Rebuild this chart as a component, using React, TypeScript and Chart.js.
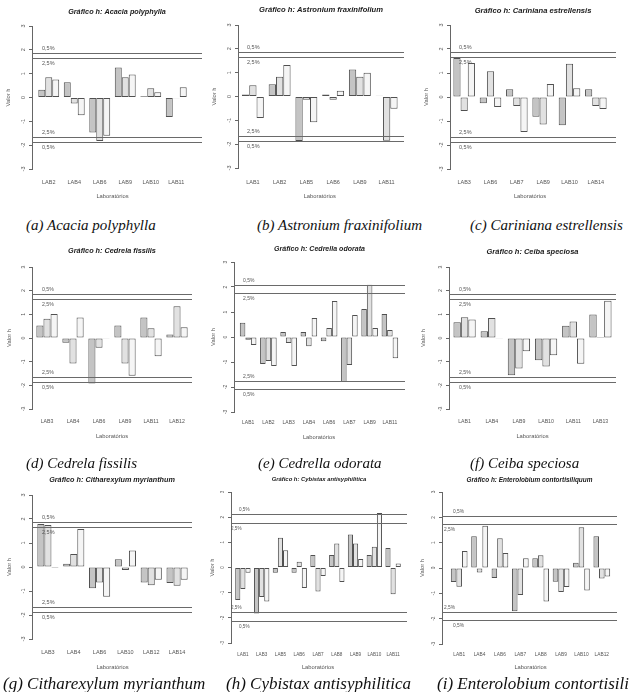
import React, { useEffect, useRef } from 'react';
import { Chart, registerables } from 'chart.js';

Chart.register(...registerables);

const FONT = '"Liberation Sans", Arial, sans-serif';
const SERIF = '"Liberation Serif", "Times New Roman", serif';

// ---------- data ----------
const seriesColors = ['#c4c4c4', '#e1e1e1', '#f5f5f5'];
const critLabels = ['0,5%', '2,5%'];
const crit6 = [1.87, 1.66];
const crit8 = [2.06, 1.75];
const crit9 = [2.13, 1.78];
const xTitle = 'Laboratórios';
const yTitle = 'Valor h';

const labsA = ['LAB2', 'LAB4', 'LAB6', 'LAB9', 'LAB10', 'LAB11'];
const hA1 = [0.32, 0.64, -1.47, 1.26, 0.05, -0.82];
const hA2 = [0.85, -0.25, -1.82, 0.85, 0.39, -0.03];
const hA3 = [0.76, -0.74, -1.61, 0.97, 0.22, 0.43];

const labsB = ['LAB1', 'LAB2', 'LAB5', 'LAB6', 'LAB9', 'LAB11'];
const hB1 = [0.08, 0.51, -1.87, 0.08, 1.13, 0.03];
const hB2 = [0.47, 0.83, -0.14, -0.14, 0.83, -1.86];
const hB3 = [-0.9, 1.32, -1.08, 0.24, 1.0, -0.51];

const labsC = ['LAB3', 'LAB6', 'LAB7', 'LAB9', 'LAB10', 'LAB14'];
const hC1 = [1.63, -0.26, 0.32, -0.82, -1.18, 0.32];
const hC2 = [-0.58, 1.07, -0.38, -1.15, 1.39, -0.38];
const hC3 = [1.42, -0.42, -1.46, 0.54, 0.36, -0.5];

const labsD = ['LAB3', 'LAB4', 'LAB6', 'LAB9', 'LAB11', 'LAB12'];
const hD1 = [0.53, -0.2, -1.92, 0.53, 0.87, 0.15];
const hD2 = [0.81, -1.08, -0.41, -1.08, 0.41, 1.34];
const hD3 = [1.01, 0.87, -0.03, -1.6, -0.77, 0.45];

const labsE = ['LAB1', 'LAB2', 'LAB3', 'LAB4', 'LAB6', 'LAB7', 'LAB9', 'LAB11'];
const hE1 = [0.57, -1.08, 0.2, 0.2, -0.17, -1.8, 1.12, 0.92];
const hE2 = [-0.11, -0.96, -0.24, -0.37, 0.36, -1.12, 2.09, 0.28];
const hE3 = [-0.32, -1.16, -1.16, 0.76, 1.44, 0.88, 0.36, -0.85];

const labsF = ['LAB1', 'LAB4', 'LAB9', 'LAB10', 'LAB11', 'LAB13'];
const hF1 = [0.67, 0.28, -1.57, -0.94, 0.52, 0.99];
const hF2 = [0.88, 0.85, -1.29, -1.2, 0.7, 0.04];
const hF3 = [0.78, -0.03, -0.56, -0.73, -1.09, 1.57];

const labsG = ['LAB3', 'LAB4', 'LAB6', 'LAB10', 'LAB12', 'LAB14'];
const hG1 = [1.79, 0.14, -0.89, 0.32, -0.65, -0.67];
const hG2 = [1.75, 0.54, -0.65, -0.13, -0.76, -0.78];
const hG3 = [-0.04, 1.58, -1.24, 0.69, -0.53, -0.53];

const labsH = ['LAB1', 'LAB3', 'LAB5', 'LAB6', 'LAB7', 'LAB8', 'LAB9', 'LAB10', 'LAB11'];
const hH1 = [-1.29, -1.83, -0.21, -0.21, 0.5, 0.5, 1.31, 0.5, 0.77];
const hH2 = [-0.85, -1.17, 1.18, 0.23, -0.95, 0.95, 0.95, 0.82, -1.06];
const hH3 = [-0.21, -1.35, 0.69, -0.81, -0.34, -0.58, 0.34, 2.17, 0.16];

const labsI = ['LAB1', 'LAB4', 'LAB6', 'LAB7', 'LAB8', 'LAB9', 'LAB10', 'LAB12'];
const hI1 = [-0.55, 1.25, -0.39, -1.71, 0.38, -0.54, 0.21, 1.25];
const hI2 = [-0.74, -0.18, 1.17, -1.07, 0.5, -0.95, 1.61, -0.41];
const hI3 = [0.67, 1.67, 0.59, 0.38, -1.32, -0.75, -0.89, -0.34];

const titles = [
  'Gráfico h: Acacia polyphylla',
  'Gráfico h: Astronium fraxinifolium',
  'Gráfico h: Cariniana estrellensis',
  'Gráfico h: Cedrela fissilis',
  'Gráfico h: Cedrella odorata',
  'Gráfico h: Ceiba speciosa',
  'Gráfico h: Citharexylum myrianthum',
  'Gráfico h: Cybistax antisyphilitica',
  'Gráfico h: Enterolobium contortisiliquum',
];

const captions = [
  '(a) Acacia polyphylla',
  '(b) Astronium fraxinifolium',
  '(c) Cariniana estrellensis',
  '(d) Cedrela fissilis',
  '(e) Cedrella odorata',
  '(f) Ceiba speciosa',
  '(g) Citharexylum myrianthum',
  '(h) Cybistax antisyphilitica',
  '(i) Enterolobium contortisiliquum',
];

// ---------- layout (positions / sizes only) ----------
type Panel = {
  labels: string[];
  series: number[][];
  crit: number[];
  title: string;
  left: number; top0: number; W: number; H: number;
  axisX: number; top: number; bottom: number;
  titleY: number; titleW: number;
  labelsY: number; xTitleY: number; yTitleX: number;
  lineEnd: number; catL: number; catR: number;
  x05: number; x25: number; tick: number;
};

const panels: Panel[] = [
  { labels: labsA, series: [hA1, hA2, hA3], crit: crit6, title: titles[0],
    left: 0, top0: 0, W: 210, H: 205, axisX: 32, top: 26, bottom: 169, titleY: 12, titleW: 98,
    labelsY: 182, xTitleY: 196, yTitleX: 8, lineEnd: 202, catL: 36, catR: 189, x05: 42, x25: 42, tick: 5.5 },
  { labels: labsB, series: [hB1, hB2, hB3], crit: crit6, title: titles[1],
    left: 210, top0: 0, W: 210, H: 205, axisX: 28, top: 25, bottom: 168, titleY: 10, titleW: 124,
    labelsY: 182, xTitleY: 196, yTitleX: 4, lineEnd: 194, catL: 29.5, catR: 190, x05: 37, x25: 37, tick: 5.5 },
  { labels: labsC, series: [hC1, hC2, hC3], crit: crit6, title: titles[2],
    left: 420, top0: 0, W: 209, H: 205, axisX: 30, top: 25, bottom: 169, titleY: 11, titleW: 117,
    labelsY: 182, xTitleY: 196, yTitleX: 6, lineEnd: 196, catL: 31, catR: 189, x05: 39, x25: 39, tick: 5.5 },
  { labels: labsD, series: [hD1, hD2, hD3], crit: crit6, title: titles[3],
    left: 0, top0: 235, W: 210, H: 210, axisX: 32, top: 32, bottom: 174, titleY: 16, titleW: 88,
    labelsY: 187, xTitleY: 201, yTitleX: 9, lineEnd: 192, catL: 34, catR: 190, x05: 42, x25: 42, tick: 5.2 },
  { labels: labsE, series: [hE1, hE2, hE3], crit: crit8, title: titles[4],
    left: 210, top0: 235, W: 210, H: 210, axisX: 24, top: 27, bottom: 177, titleY: 14, titleW: 91,
    labelsY: 188, xTitleY: 202, yTitleX: 3, lineEnd: 195, catL: 28, catR: 190, x05: 33, x25: 33, tick: 5 },
  { labels: labsF, series: [hF1, hF2, hF3], crit: crit6, title: titles[5],
    left: 420, top0: 235, W: 209, H: 210, axisX: 29, top: 32, bottom: 174, titleY: 17, titleW: 92,
    labelsY: 187, xTitleY: 201, yTitleX: 3, lineEnd: 196, catL: 31, catR: 194, x05: 39, x25: 39, tick: 5.2 },
  { labels: labsG, series: [hG1, hG2, hG3], crit: crit6, title: titles[6],
    left: 0, top0: 465, W: 210, H: 210, axisX: 32, top: 30, bottom: 174, titleY: 15, titleW: 126,
    labelsY: 187, xTitleY: 202, yTitleX: 9, lineEnd: 192, catL: 35, catR: 190, x05: 42, x25: 42, tick: 5.5 },
  { labels: labsH, series: [hH1, hH2, hH3], crit: crit9, title: titles[7],
    left: 210, top0: 465, W: 210, H: 210, axisX: 21, top: 27, bottom: 178, titleY: 14, titleW: 95,
    labelsY: 190, xTitleY: 202, yTitleX: 2, lineEnd: 197, catL: 23.5, catR: 192.5, x05: 29, x25: 21, tick: 4.6 },
  { labels: labsI, series: [hI1, hI2, hI3], crit: crit8, title: titles[8],
    left: 420, top0: 465, W: 209, H: 210, axisX: 22, top: 27, bottom: 179, titleY: 15, titleW: 126,
    labelsY: 190, xTitleY: 202, yTitleX: 2, lineEnd: 197, catL: 29, catR: 192, x05: 33, x25: 24, tick: 4.8 },
];

const captionPos = [
  { x: 26, y: 225, fs: 15 }, { x: 257, y: 225, fs: 15 }, { x: 470, y: 225, fs: 15 },
  { x: 26, y: 463, fs: 15 }, { x: 258, y: 463, fs: 15 }, { x: 470, y: 463, fs: 15 },
  { x: 3, y: 683, fs: 17 }, { x: 226, y: 683, fs: 17 }, { x: 437, y: 683, fs: 17 },
];

function fitTitleSize(text: string, targetW: number): number {
  const c = document.createElement('canvas').getContext('2d')!;
  c.font = `italic bold 10px ${FONT}`;
  const w = c.measureText(text).width;
  return (10 * targetW) / w;
}

function BarPanel({ p }: { p: Panel }) {
  const ref = useRef<HTMLCanvasElement | null>(null);
  useEffect(() => {
    const canvas = ref.current!;
    const fs = fitTitleSize(p.title, p.titleW);
    const tlh = fs * 1.2;
    const tickLh = p.tick * 1.2;
    const axFs = 5.8;
    const axLh = axFs * 1.2;
    const extras = {
      id: 'panelExtras',
      afterLayout(chart: any) {
        const xs = chart.scales.x;
        xs.left = p.catL;
        xs.right = p.catR;
        xs.width = p.catR - p.catL;
        xs.configure();
      },
      afterDatasetsDraw(chart: any) {
        const { ctx, chartArea } = chart;
        const ys = chart.scales.y;
        const vals = [p.crit[0], p.crit[1], -p.crit[1], -p.crit[0]];
        const texts = [critLabels[0], critLabels[1], critLabels[1], critLabels[0]];
        const dirs = [-1, 1, -1, 1];
        const xsPos = [p.x05, p.x25, p.x25, p.x05];
        ctx.save();
        ctx.strokeStyle = '#6a6a6a';
        ctx.lineWidth = 1;
        ctx.font = `${p.tick}px ${FONT}`;
        ctx.fillStyle = '#555';
        ctx.textBaseline = 'middle';
        ctx.textAlign = 'left';
        vals.forEach((v, i) => {
          const py = Math.round(ys.getPixelForValue(v)) + 0.5;
          ctx.beginPath();
          ctx.moveTo(chartArea.left, py);
          ctx.lineTo(chartArea.right, py);
          ctx.stroke();
          ctx.fillText(texts[i], xsPos[i], py + dirs[i] * 5);
        });
        ctx.restore();
      },
    };
    const chart = new Chart(canvas, {
      type: 'bar',
      data: {
        labels: p.labels,
        datasets: p.series.map((d, i) => ({
          data: d,
          backgroundColor: seriesColors[i],
          borderColor: '#505050',
          borderWidth: 1,
          borderSkipped: false,
          barPercentage: 1,
          categoryPercentage: 0.82,
        })),
      },
      options: {
        responsive: false,
        animation: false,
        events: [],
        layout: { padding: { left: 0, top: 0, bottom: 0, right: p.W - p.lineEnd } },
        plugins: {
          legend: { display: false },
          tooltip: { enabled: false },
          title: {
            display: true,
            text: p.title,
            fullSize: false,
            color: '#1a1a1a',
            font: { family: FONT, size: fs, style: 'italic', weight: 'bold', lineHeight: 1.2 },
            padding: { top: p.titleY - tlh / 2, bottom: p.top - p.titleY - tlh / 2 },
          },
        },
        scales: {
          x: {
            grid: { display: false, drawTicks: false },
            border: { display: false },
            ticks: {
              autoSkip: false,
              maxRotation: 0,
              minRotation: 0,
              font: { family: FONT, size: p.tick },
              color: '#555',
              padding: p.labelsY - p.bottom - tickLh / 2,
            },
            title: {
              display: true,
              text: xTitle,
              font: { family: FONT, size: axFs },
              color: '#555',
              padding: { top: 0, bottom: p.H - p.xTitleY - axLh / 2 },
            },
            afterFit: (s: any) => {
              s.height = p.H - p.bottom;
            },
          },
          y: {
            min: -3,
            max: 3,
            ticks: {
              stepSize: 1,
              minRotation: 90,
              maxRotation: 90,
              crossAlign: 'center',
              padding: 3,
              font: { family: FONT, size: p.tick },
              color: '#555',
            },
            grid: { drawOnChartArea: false, drawTicks: true, tickLength: 3, color: '#666' },
            border: { display: true, color: '#666' },
            title: {
              display: true,
              text: yTitle,
              font: { family: FONT, size: axFs },
              color: '#555',
              padding: { top: p.yTitleX - axLh / 2, bottom: 0 },
            },
            afterFit: (s: any) => {
              s.width = p.axisX;
            },
          },
        },
      } as any,
      plugins: [extras],
    });
    return () => chart.destroy();
  }, [p]);
  return (
    <canvas
      ref={ref}
      width={p.W}
      height={p.H}
      style={{ position: 'absolute', left: p.left, top: p.top0, display: 'block' }}
    />
  );
}

export default function App() {
  return (
    <div
      style={{
        position: 'absolute',
        left: 0,
        top: 0,
        width: 629,
        height: 692,
        overflow: 'hidden',
        background: '#fff',
      }}
    >
      {panels.map((p, i) => (
        <BarPanel key={i} p={p} />
      ))}
      {captions.map((c, i) => (
        <div
          key={'c' + i}
          style={{
            position: 'absolute',
            left: captionPos[i].x,
            top: captionPos[i].y - captionPos[i].fs / 2,
            fontFamily: SERIF,
            fontStyle: 'italic',
            fontSize: captionPos[i].fs,
            lineHeight: `${captionPos[i].fs}px`,
            whiteSpace: 'nowrap',
            color: '#111',
          }}
        >
          {c}
        </div>
      ))}
    </div>
  );
}
